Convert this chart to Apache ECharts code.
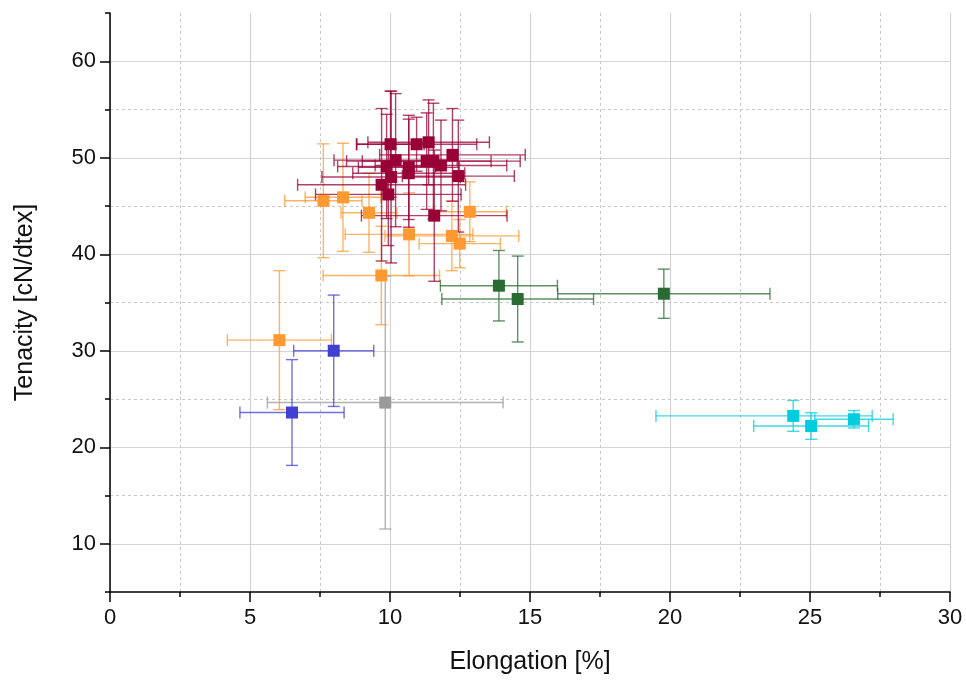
<!DOCTYPE html>
<html>
<head>
<meta charset="utf-8">
<script src="https://cdn.jsdelivr.net/npm/echarts@6/dist/echarts.min.js"></script>
<style>
  html, body { margin: 0; padding: 0; background: #fff; }
  #chart { width: 966px; height: 680px; }
</style>
</head>
<body>
<div id="chart"></div>
<script>
// each row: [elongation %, tenacity cN/dtex, elongation error, tenacity error, (optional) upper elongation error]
var maroonPts = [
  [10.02, 51.4, 1.2, 5.5],
  [10.95, 51.4, 2.15, 2.8],
  [11.38, 51.6, 2.17, 4.4],
  [12.23, 50.3, 2.6, 4.8],
  [10.20, 49.75, 2.2, 6.9],
  [9.88, 49.1, 1.75, 5.4],
  [10.67, 49.0, 1.8, 5.4],
  [11.31, 49.65, 2.3, 5.0],
  [11.55, 49.65, 3.1, 6.0],
  [11.82, 49.2, 2.35, 4.7],
  [10.67, 48.4, 2.0, 5.6],
  [10.04, 48.0, 2.47, 8.9],
  [12.44, 48.1, 2.0, 5.8],
  [9.70, 47.2, 3.0, 7.9],
  [9.94, 46.2, 2.6, 5.3],
  [11.58, 44.0, 2.6, 6.8]
];
var orangePts = [
  [7.62, 45.54, 1.38, 5.9],
  [8.32, 45.9, 1.35, 5.6],
  [9.25, 44.3, 1.0, 4.1],
  [12.85, 44.4, 1.3, 3.1],
  [10.68, 42.06, 2.28, 4.3],
  [12.21, 41.9, 2.39, 3.6],
  [12.49, 41.1, 1.45, 2.5],
  [9.69, 37.8, 2.08, 5.1],
  [6.05, 31.1, 1.86, 7.2]
];
var greenPts = [
  [13.89, 36.74, 2.09, 3.65],
  [14.56, 35.36, 2.71, 4.45],
  [19.78, 35.91, 3.79, 2.55]
];
var bluePts = [
  [7.99, 30.0, 1.43, 5.77],
  [6.50, 23.6, 1.86, 5.48]
];
var grayPts = [
  [9.83, 24.63, 4.21, 13.1]
];
var cyanPts = [
  [24.40, 23.25, 4.9, 1.6, 2.82],
  [25.04, 22.2, 2.05, 1.38],
  [26.57, 22.9, 1.4, 0.9]
];

var groups = [
  { data: grayPts, color: '#9a9a9a' },
  { data: bluePts, color: '#4040d4' },
  { data: greenPts, color: '#296b33' },
  { data: cyanPts, color: '#00cce0' },
  { data: orangePts, color: '#ff9a33' },
  { data: maroonPts, color: '#990036' }
];

var font = 'Liberation Sans, Arial, sans-serif';

function errorBars(params, api) {
  var x = api.value(0), y = api.value(1);
  var ex = api.value(2), ey = api.value(3);
  var exHi = api.value(4);
  if (!(exHi > 0)) exHi = ex;
  var l = api.coord([x - ex, y]);
  var r = api.coord([x + exHi, y]);
  var t = api.coord([x, y + ey]);
  var b = api.coord([x, y - ey]);
  var c = 6;
  var style = { stroke: api.visual('color'), lineWidth: 1.4, opacity: 0.75 };
  return {
    type: 'group',
    children: [
      { type: 'line', shape: { x1: l[0], y1: l[1], x2: r[0], y2: r[1] }, style: style },
      { type: 'line', shape: { x1: l[0], y1: l[1] - c, x2: l[0], y2: l[1] + c }, style: style },
      { type: 'line', shape: { x1: r[0], y1: r[1] - c, x2: r[0], y2: r[1] + c }, style: style },
      { type: 'line', shape: { x1: t[0], y1: t[1], x2: b[0], y2: b[1] }, style: style },
      { type: 'line', shape: { x1: t[0] - c, y1: t[1], x2: t[0] + c, y2: t[1] }, style: style },
      { type: 'line', shape: { x1: b[0] - c, y1: b[1], x2: b[0] + c, y2: b[1] }, style: style }
    ]
  };
}

var series = [];
groups.forEach(function (g) {
  series.push({
    type: 'custom',
    renderItem: errorBars,
    data: g.data.map(function (p) { return [p[0], p[1], p[2], p[3], p[4] || 0]; }),
    encode: { x: 0, y: 1 },
    itemStyle: { color: g.color },
    z: 2,
    silent: true
  });
});
groups.forEach(function (g) {
  series.push({
    type: 'scatter',
    data: g.data.map(function (p) { return [p[0], p[1]]; }),
    symbol: 'rect',
    symbolSize: 12,
    itemStyle: { color: g.color, opacity: 1 },
    z: 3
  });
});

var chart = echarts.init(document.getElementById('chart'));
chart.setOption({
  animation: false,
  backgroundColor: '#fff',
  grid: { left: 110, right: 16, top: 13, bottom: 88 },
  xAxis: {
    type: 'value',
    min: 0,
    max: 30,
    interval: 5,
    name: 'Elongation [%]',
    nameLocation: 'middle',
    nameGap: 58,
    nameTextStyle: { fontFamily: font, fontSize: 25, color: '#111' },
    axisLine: { show: true, onZero: false, lineStyle: { color: '#000', width: 1.5 } },
    axisTick: { show: true, inside: false, length: 10, lineStyle: { color: '#000', width: 1.5 } },
    minorTick: { show: true, splitNumber: 2, length: 5, lineStyle: { color: '#000', width: 1.5 } },
    axisLabel: { fontFamily: font, fontSize: 22, color: '#111', margin: 15 },
    splitLine: { show: true, lineStyle: { color: '#d4d4d4', width: 1.2 } },
    minorSplitLine: { show: true, lineStyle: { color: '#c8c8c8', width: 1, type: [3, 3] } }
  },
  yAxis: [
    {
      type: 'value',
      min: 5,
      max: 65,
      splitNumber: 6,
      name: 'Tenacity [cN/dtex]',
      nameLocation: 'middle',
      nameGap: 72,
      nameTextStyle: { fontFamily: font, fontSize: 25, color: '#111' },
      axisLine: { show: true, onZero: false, lineStyle: { color: '#000', width: 1.5 } },
      axisTick: { show: true, inside: false, length: 10, lineStyle: { color: '#000', width: 1.5 } },
      axisLabel: { fontFamily: font, fontSize: 22, color: '#111', margin: 14, showMinLabel: false, showMaxLabel: false },
      splitLine: { show: true, showMinLine: false, showMaxLine: false, lineStyle: { color: '#d4d4d4', width: 1.2 } }
    },
    {
      // minor ticks and dotted grid at 15, 25, ... 55
      type: 'value',
      min: 5,
      max: 65,
      interval: 10,
      position: 'left',
      axisLine: { show: false },
      axisTick: { show: true, inside: false, length: 5, lineStyle: { color: '#000', width: 1.5 } },
      axisLabel: { show: false },
      splitLine: { show: true, showMinLine: false, showMaxLine: false, lineStyle: { color: '#c8c8c8', width: 1, type: [3, 3] } }
    }
  ],
  series: series
});
</script>
</body>
</html>
